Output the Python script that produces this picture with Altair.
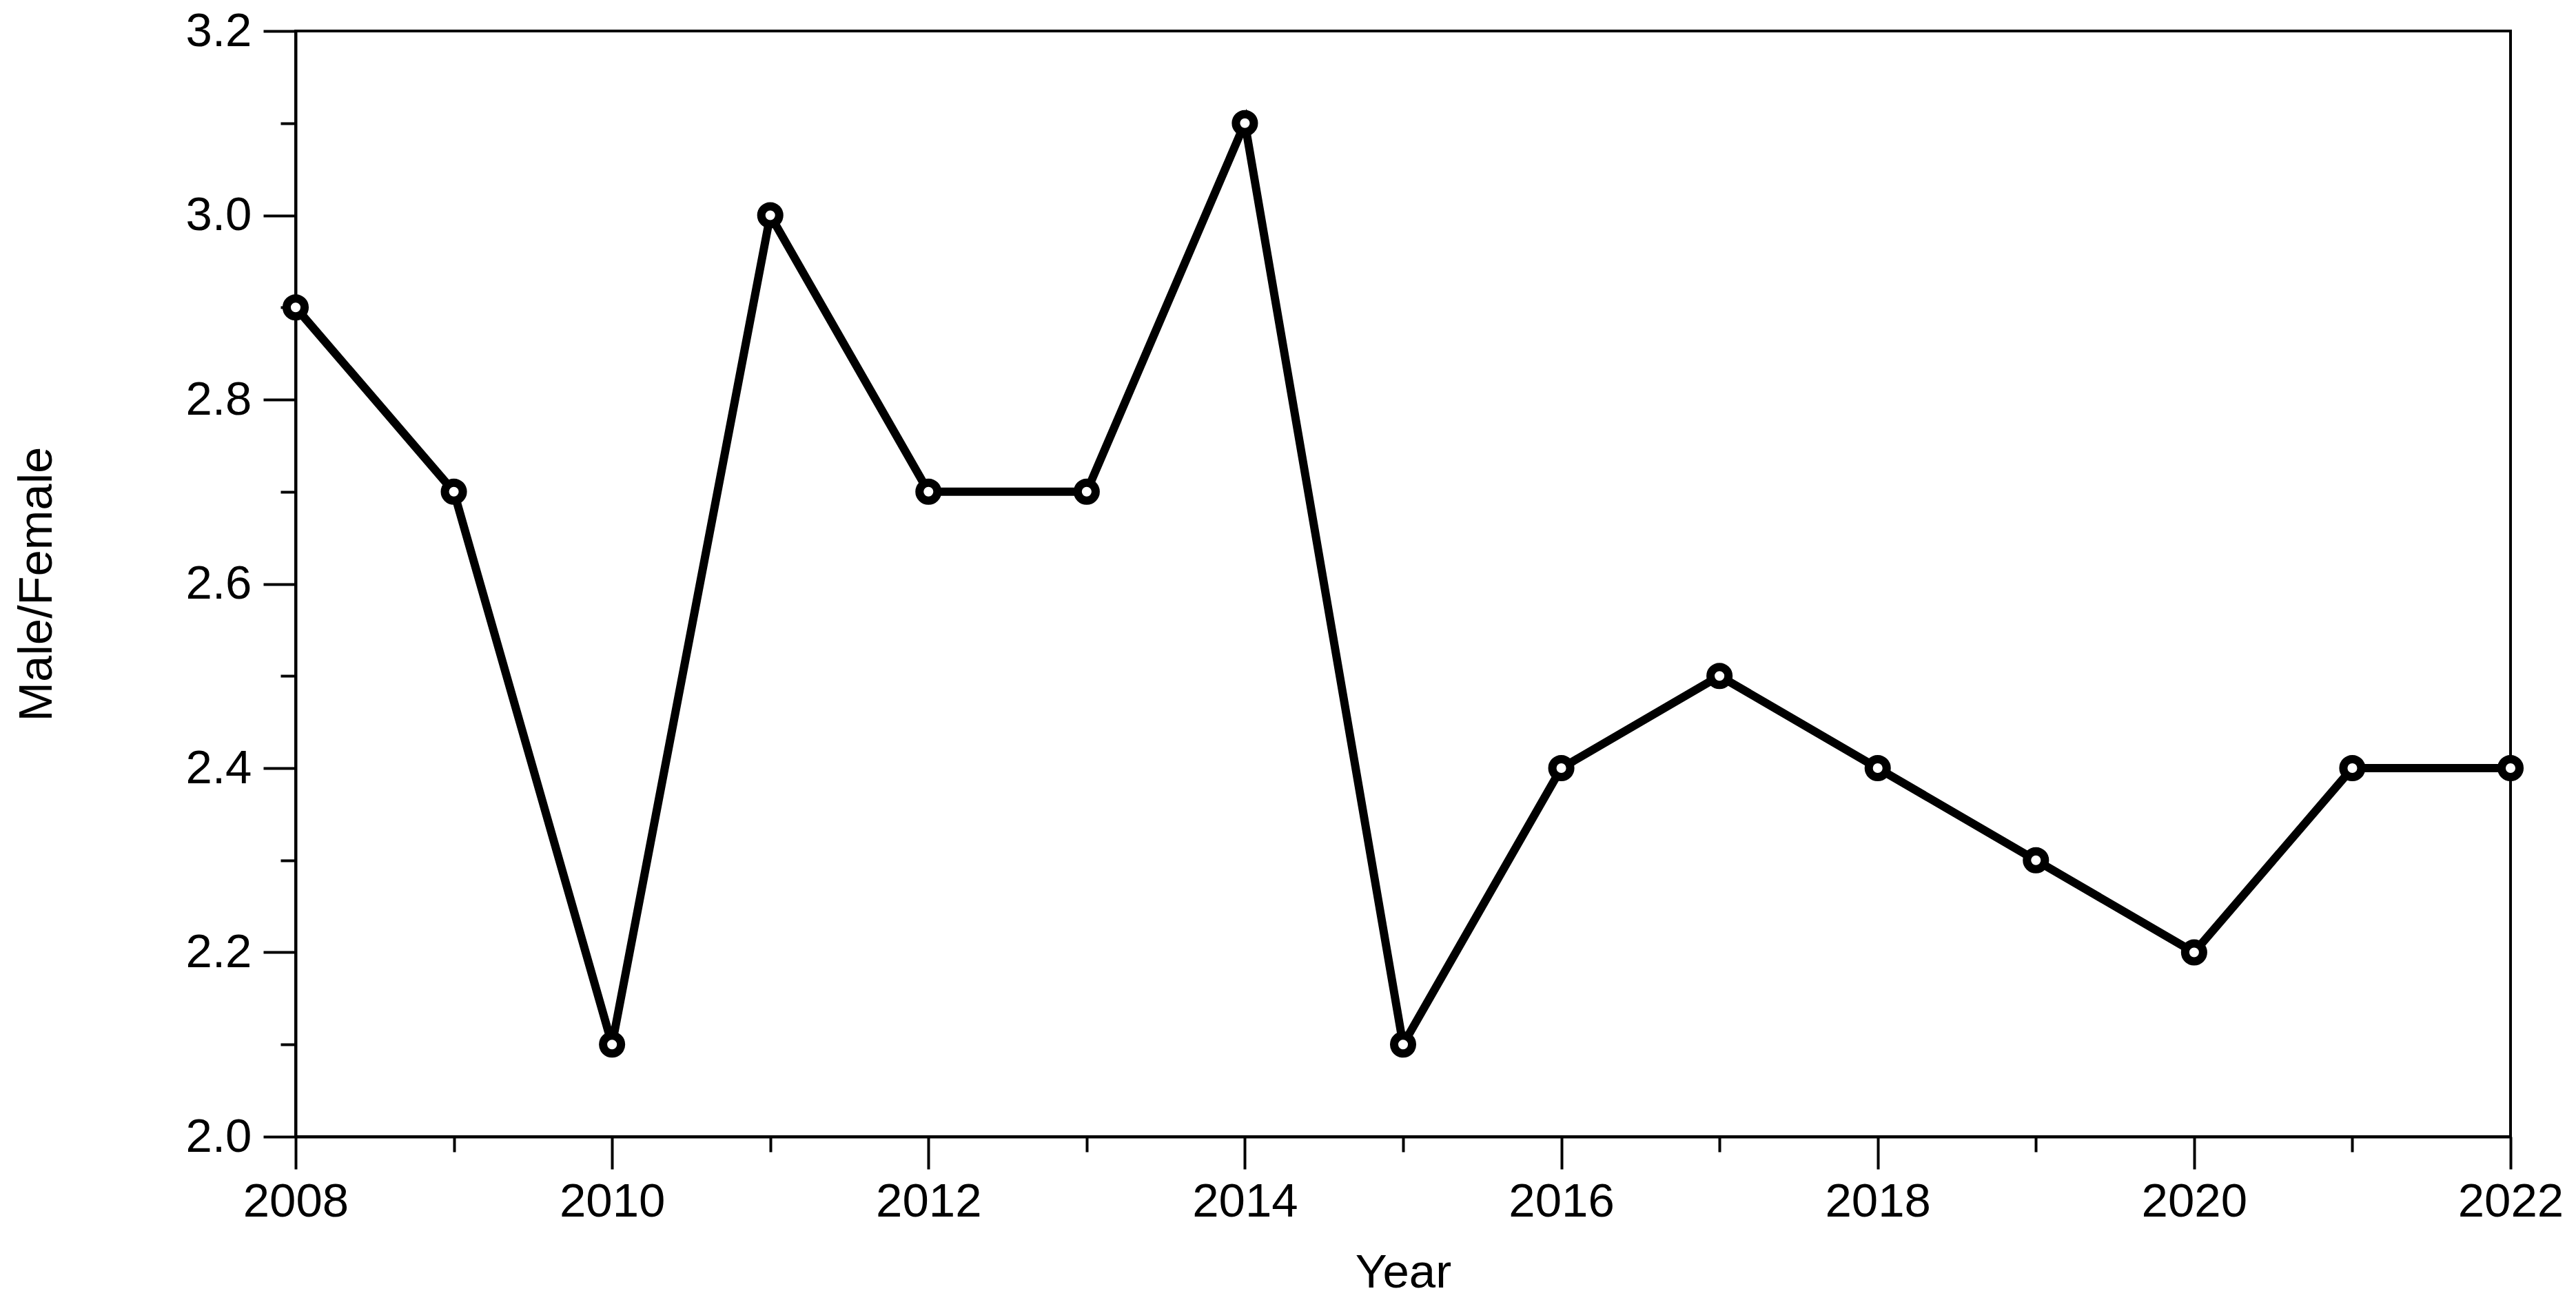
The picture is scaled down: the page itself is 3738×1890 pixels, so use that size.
import altair as alt
import pandas as pd

years = [2008, 2009, 2010, 2011, 2012, 2013, 2014, 2015, 2016, 2017, 2018, 2019, 2020, 2021, 2022]
ratio = [2.9, 2.7, 2.1, 3.0, 2.7, 2.7, 3.1, 2.1, 2.4, 2.5, 2.4, 2.3, 2.2, 2.4, 2.4]

x_tick_values = [2008, 2009, 2010, 2011, 2012, 2013, 2014, 2015, 2016, 2017, 2018, 2019, 2020, 2021, 2022]
y_tick_values = [2.0, 2.1, 2.2, 2.3, 2.4, 2.5, 2.6, 2.7, 2.8, 2.9, 3.0, 3.1, 3.2]

df = pd.DataFrame({"Year": years, "Ratio": ratio})

FONT = "Liberation Sans"
FS = 69
W, H = 3214, 1605

x_enc = alt.X(
    "Year:Q",
    scale=alt.Scale(domain=[2008, 2022], nice=False, zero=False),
    axis=alt.Axis(
        title="Year",
        values=x_tick_values,
        labelExpr="datum.value % 2 === 0 ? format(datum.value, 'd') : ''",
        tickSize={"condition": {"test": "datum.value % 2 === 0", "value": 47}, "value": 22},
        tickWidth=4,
        tickColor="black",
        domainColor="black",
        domainWidth=4,
        grid=False,
        labelFont=FONT,
        labelFontSize=FS,
        labelColor="black",
        labelPadding=13,
        labelFlush=False,
        labelOverlap=False,
        titleFont=FONT,
        titleFontSize=FS,
        titleFontWeight="normal",
        titleColor="black",
        titleX=W / 2,
        titleY=218,
        titleBaseline="alphabetic",
        titleAlign="center",
    ),
)

y_enc = alt.Y(
    "Ratio:Q",
    scale=alt.Scale(domain=[2.0, 3.2], nice=False, zero=False),
    axis=alt.Axis(
        title="Male/Female",
        values=y_tick_values,
        labelExpr="round(datum.value * 10) % 2 === 0 ? format(datum.value, '.1f') : ''",
        tickSize={"condition": {"test": "round(datum.value * 10) % 2 === 0", "value": 47}, "value": 22},
        tickWidth=4,
        tickColor="black",
        domainColor="black",
        domainWidth=4,
        grid=False,
        labelFont=FONT,
        labelFontSize=FS,
        labelColor="black",
        labelPadding=17,
        labelFlush=False,
        labelOverlap=False,
        titleFont=FONT,
        titleFontSize=FS,
        titleFontWeight="normal",
        titleColor="black",
        titleX=-355,
        titleY=H / 2,
        titleAngle=270,
        titleBaseline="alphabetic",
        titleAlign="center",
    ),
)

base = alt.Chart(df).encode(x=x_enc, y=y_enc)

line = base.mark_line(color="black", strokeWidth=12, strokeJoin="miter")
points = base.mark_point(
    shape="circle", filled=True, fill="white", stroke="black",
    strokeWidth=12, size=680, opacity=1,
)

chart = (
    alt.layer(line, points)
    .properties(
        width=W,
        height=H,
        autosize=alt.AutoSizeParams(type="none"),
        padding={"left": 421, "top": 37, "right": 80, "bottom": 235},
        background="white",
    )
    .configure_view(stroke="black", strokeWidth=4)
)

chart.save("out.html", embed_options={"renderer": "svg", "actions": False})
